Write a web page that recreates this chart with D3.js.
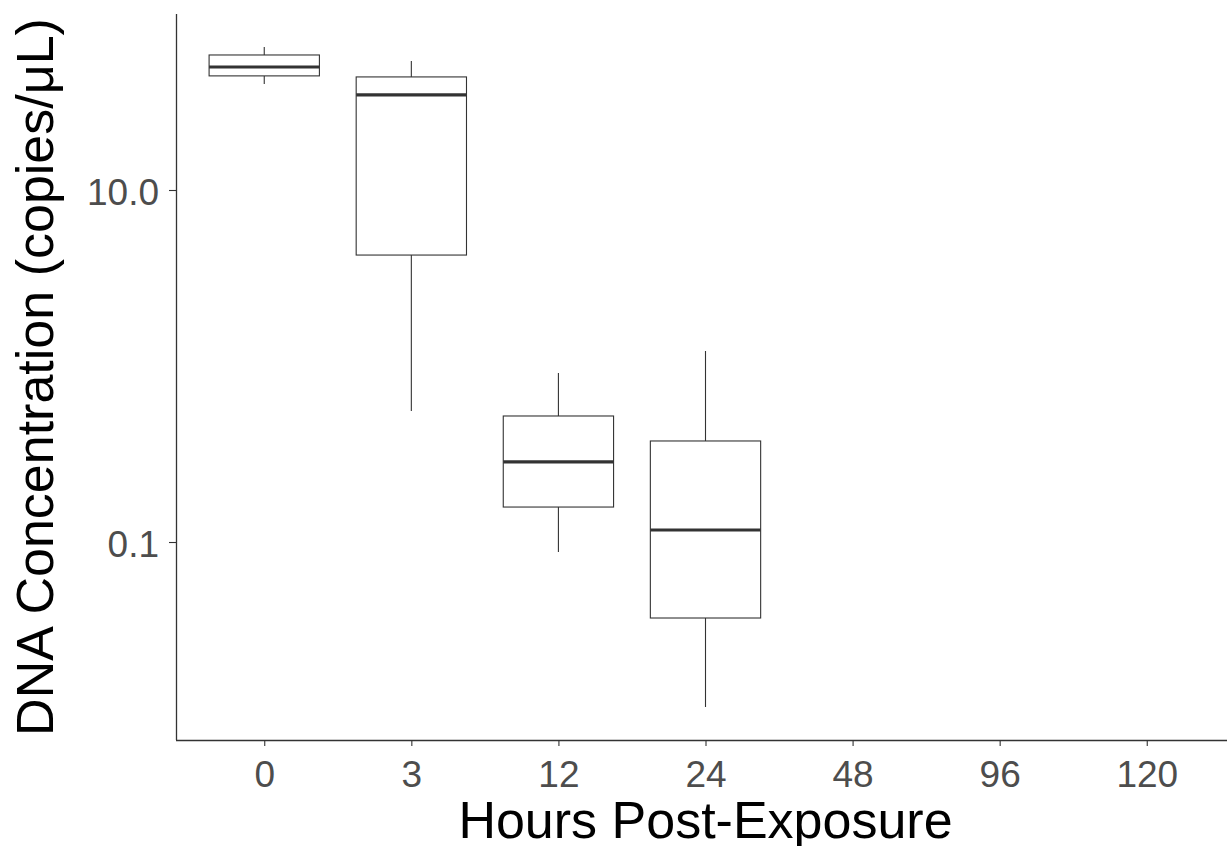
<!DOCTYPE html>
<html>
<head>
<meta charset="utf-8">
<script src="https://cdn.jsdelivr.net/npm/d3@7"></script>
<style>
  html, body { margin: 0; padding: 0; background: #fff; }
  svg { display: block; }
</style>
</head>
<body>
<svg id="chart" width="1227" height="846"></svg>
<script>
// ---- data ----
const categories  = ["0", "3", "12", "24", "48", "96", "120"];
const whiskerLow  = [40.0, 0.555, 0.0877, 0.01155, null, null, null];
const q1          = [44.5, 4.27,  0.158,  0.0370,  null, null, null];
const medians     = [50.0, 34.7,  0.285,  0.117,   null, null, null];
const q3          = [58.5, 43.9,  0.520,  0.375,   null, null, null];
const whiskerHigh = [64.9, 54.1,  0.912,  1.217,   null, null, null];
const yTickValues = [0.1, 10];
const yTickLabels = ["0.1", "10.0"];
const xTitle = "Hours Post-Exposure";
const yTitle = "DNA Concentration (copies/\u03BCL)";

// ---- layout ----
const svg = d3.select("#chart");
const panel = { left: 176, right: 1235, top: 14, bottom: 740 };
const font = "'Liberation Sans', Arial, sans-serif";
const lineCol = "#333333";

const x = d3.scalePoint()
  .domain(categories)
  .range([panel.left, panel.right])
  .padding(0.6);
const y = d3.scaleLog()
  .domain([0.0075, 100])
  .range([panel.bottom, panel.top]);

const boxW = x.step() * 0.75;

const data = categories.map((c, i) => ({
  cat: c, lo: whiskerLow[i], q1: q1[i], med: medians[i], q3: q3[i], hi: whiskerHigh[i]
})).filter(d => d.med !== null);

const g = svg.append("g");

// whiskers
g.selectAll("line.wh-up").data(data).join("line")
  .attr("x1", d => x(d.cat)).attr("x2", d => x(d.cat))
  .attr("y1", d => y(d.q3)).attr("y2", d => y(d.hi))
  .attr("stroke", lineCol).attr("stroke-width", 1.1);
g.selectAll("line.wh-dn").data(data).join("line")
  .attr("x1", d => x(d.cat)).attr("x2", d => x(d.cat))
  .attr("y1", d => y(d.q1)).attr("y2", d => y(d.lo))
  .attr("stroke", lineCol).attr("stroke-width", 1.1);

// boxes
g.selectAll("rect.box").data(data).join("rect")
  .attr("x", d => x(d.cat) - boxW / 2)
  .attr("width", boxW)
  .attr("y", d => y(d.q3))
  .attr("height", d => y(d.q1) - y(d.q3))
  .attr("fill", "#ffffff")
  .attr("stroke", lineCol).attr("stroke-width", 1.1);

// medians
g.selectAll("line.med").data(data).join("line")
  .attr("x1", d => x(d.cat) - boxW / 2).attr("x2", d => x(d.cat) + boxW / 2)
  .attr("y1", d => y(d.med)).attr("y2", d => y(d.med))
  .attr("stroke", lineCol).attr("stroke-width", 3.2);

// ---- axes ----
const xAxis = d3.axisBottom(x).tickSize(6).tickPadding(10).tickSizeOuter(0);
const yAxis = d3.axisLeft(y).tickValues(yTickValues)
  .tickFormat((d, i) => yTickLabels[i]).tickSize(7).tickPadding(10).tickSizeOuter(0);

const gx = svg.append("g").attr("transform", `translate(0,${panel.bottom})`).call(xAxis);
const gy = svg.append("g").attr("transform", `translate(${panel.left},0)`).call(yAxis);

[gx, gy].forEach(ax => {
  ax.select(".domain").attr("stroke", lineCol).attr("stroke-width", 1.3);
  ax.selectAll(".tick line").attr("stroke", lineCol).attr("stroke-width", 1.1);
  ax.selectAll(".tick text")
    .attr("font-family", font).attr("font-size", 37).attr("fill", "#4D4D4D");
});
gx.select(".domain").attr("d", `M${panel.left},0.5H${panel.right}`);
gy.select(".domain").attr("d", `M0.5,${panel.top}V${panel.bottom}`);
gx.selectAll(".tick text").attr("dy", null).attr("y", 47).attr("dominant-baseline", "auto");
gy.selectAll(".tick text").attr("dy", null).attr("y", 14).attr("dominant-baseline", "auto");

// titles
svg.append("text")
  .attr("x", (panel.left + panel.right) / 2).attr("y", 838)
  .attr("text-anchor", "middle")
  .attr("font-family", font).attr("font-size", 52).attr("fill", "#000")
  .text(xTitle);
svg.append("text")
  .attr("transform", `translate(53,${(panel.top + panel.bottom) / 2}) rotate(-90)`)
  .attr("text-anchor", "middle")
  .attr("font-family", font).attr("font-size", 52).attr("fill", "#000")
  .text(yTitle);
</script>
</body>
</html>
